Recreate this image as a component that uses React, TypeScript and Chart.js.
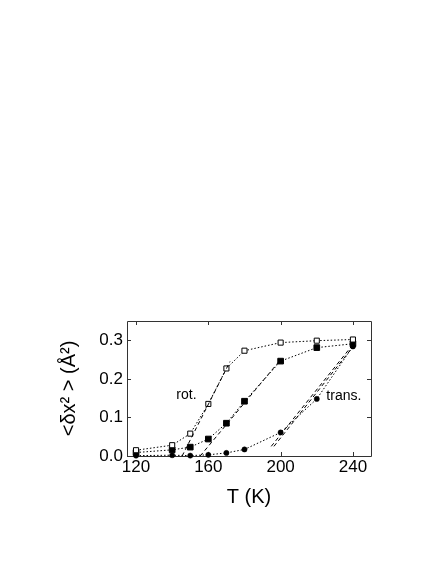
import React, { useEffect, useRef } from "react";
import { Chart, registerables } from "chart.js";

Chart.register(...registerables);

// ---- data ----
const temperatures = [120, 140, 150, 160, 170, 180, 200, 220, 240];
const rotOpen = [0.015, 0.028, 0.058, 0.135, 0.227, 0.273, 0.294, 0.299, 0.302];
const rotFilled = [0.009, 0.016, 0.023, 0.044, 0.085, 0.142, 0.246, 0.281, 0.291];
const transFilled = [0.001, 0.002, 0.001, 0.003, 0.008, 0.017, 0.061, 0.148, 0.284];

// dashed linear fits (two end points each)
const fitOpenX = [145.5, 172];
const fitOpenY = [0, 0.245];
const fitFilledX = [155.5, 200];
const fitFilledY = [0, 0.25];
const fitTransAX = [194.8, 240];
const fitTransAY = [0.025, 0.289];
const fitTransBX = [196.3, 240];
const fitTransBY = [0.025, 0.283];

const xTicks = [120, 160, 200, 240];
const yTicks = [0, 0.1, 0.2, 0.3];

const annotationTexts = ["rot.", "trans."];
const annotationX = [142.3, 225.3];
const annotationY = [0.159, 0.154];

const FONT = "'Liberation Sans', Arial, Helvetica, sans-serif";

const toPts = (xs: number[], ys: number[]) => xs.map((x, i) => ({ x, y: ys[i] }));

const framePlugin = {
  id: "frameTicks",
  beforeDatasetsDraw(chart: any) {
    const { ctx, chartArea } = chart;
    const { left, right, top, bottom } = chartArea;
    const xs = chart.scales.x;
    const ys = chart.scales.y;
    const tl = 4;
    ctx.save();
    ctx.strokeStyle = "#333";
    ctx.lineWidth = 1;
    ctx.beginPath();
    ctx.rect(Math.round(left) + 0.5, Math.round(top) + 0.5, Math.round(right - left), Math.round(bottom - top));
    ctx.stroke();
    ctx.beginPath();
    xTicks.forEach((v) => {
      const px = Math.round(xs.getPixelForValue(v)) + 0.5;
      ctx.moveTo(px, bottom);
      ctx.lineTo(px, bottom - tl);
      ctx.moveTo(px, top);
      ctx.lineTo(px, top + tl);
    });
    yTicks.forEach((v) => {
      const py = Math.round(ys.getPixelForValue(v)) + 0.5;
      ctx.moveTo(left, py);
      ctx.lineTo(left + tl, py);
      ctx.moveTo(right, py);
      ctx.lineTo(right - tl, py);
    });
    ctx.stroke();
    ctx.restore();
  },
  afterDraw(chart: any) {
    const { ctx } = chart;
    const xs = chart.scales.x;
    const ys = chart.scales.y;
    ctx.save();
    ctx.fillStyle = "#000";
    ctx.font = `14px ${FONT}`;
    ctx.textAlign = "left";
    ctx.textBaseline = "middle";
    annotationTexts.forEach((t, i) => {
      ctx.fillText(t, xs.getPixelForValue(annotationX[i]), ys.getPixelForValue(annotationY[i]));
    });
    ctx.restore();
  },
};

export default function App() {
  const ref = useRef<HTMLCanvasElement | null>(null);

  useEffect(() => {
    if (!ref.current) return;
    const fitStyle = {
      borderColor: "#000",
      borderWidth: 1,
      borderDash: [4, 3],
      pointRadius: 0,
      fill: false,
      clip: false as any,
    };
    const chart = new Chart(ref.current, {
      type: "line",
      data: {
        datasets: [
          { label: "fit rot open", data: toPts(fitOpenX, fitOpenY), ...fitStyle },
          { label: "fit rot filled", data: toPts(fitFilledX, fitFilledY), ...fitStyle },
          { label: "fit trans A", data: toPts(fitTransAX, fitTransAY), ...fitStyle },
          { label: "fit trans B", data: toPts(fitTransBX, fitTransBY), ...fitStyle },
          {
            label: "rot (open)",
            data: toPts(temperatures, rotOpen),
            borderColor: "#000",
            borderWidth: 1,
            borderDash: [1.5, 2],
            pointStyle: "rect",
            pointRadius: 3.6,
            pointBackgroundColor: "#fff",
            pointBorderColor: "#000",
            pointBorderWidth: 1,
            clip: false as any,
          },
          {
            label: "rot (filled)",
            data: toPts(temperatures, rotFilled),
            borderColor: "#000",
            borderWidth: 1,
            borderDash: [1.5, 2],
            pointStyle: "rect",
            pointRadius: 4,
            pointBackgroundColor: "#000",
            pointBorderColor: "#000",
            pointBorderWidth: 1,
            clip: false as any,
          },
          {
            label: "trans",
            data: toPts(temperatures, transFilled),
            borderColor: "#000",
            borderWidth: 1,
            borderDash: [1.5, 2],
            pointStyle: "circle",
            pointRadius: 2.6,
            pointBackgroundColor: "#000",
            pointBorderColor: "#000",
            pointBorderWidth: 0.5,
            clip: false as any,
          },
        ],
      },
      options: {
        responsive: false,
        animation: false,
        layout: { padding: { top: 313, right: 57, bottom: 0, left: 0 } },
        plugins: { legend: { display: false }, tooltip: { enabled: false } },
        scales: {
          x: {
            type: "linear",
            min: 115,
            max: 250,
            afterBuildTicks: (s: any) => {
              s.ticks = xTicks.map((v) => ({ value: v }));
            },
            afterFit: (s: any) => {
              s.height = 100;
            },
            grid: { display: false, drawTicks: false },
            border: { display: false },
            ticks: {
              color: "#000",
              padding: 1,
              maxRotation: 0,
              font: { family: FONT, size: 17 },
              callback: (v: any) => String(v),
            },
            title: {
              display: true,
              text: "T (K)",
              color: "#000",
              font: { family: FONT, size: 20 },
              padding: { top: 0, bottom: 47 },
            },
          },
          y: {
            type: "linear",
            min: 0,
            max: 0.35,
            afterBuildTicks: (s: any) => {
              s.ticks = yTicks.map((v) => ({ value: v }));
            },
            afterFit: (s: any) => {
              s.width = 119;
            },
            grid: { display: false, drawTicks: false },
            border: { display: false },
            ticks: {
              color: "#000",
              padding: 4,
              font: { family: FONT, size: 17 },
              callback: (v: any) => Number(v).toFixed(1),
            },
            title: {
              display: true,
              text: "<δx² > (Å²)",
              color: "#000",
              font: { family: FONT, size: 20 },
              padding: { top: 49, bottom: 0 },
            },
          },
        },
      },
      plugins: [framePlugin],
    });
    return () => chart.destroy();
  }, []);

  return (
    <div style={{ width: 420, height: 548 }}>
      <canvas ref={ref} width={420} height={548} style={{ display: "block" }} />
    </div>
  );
}
